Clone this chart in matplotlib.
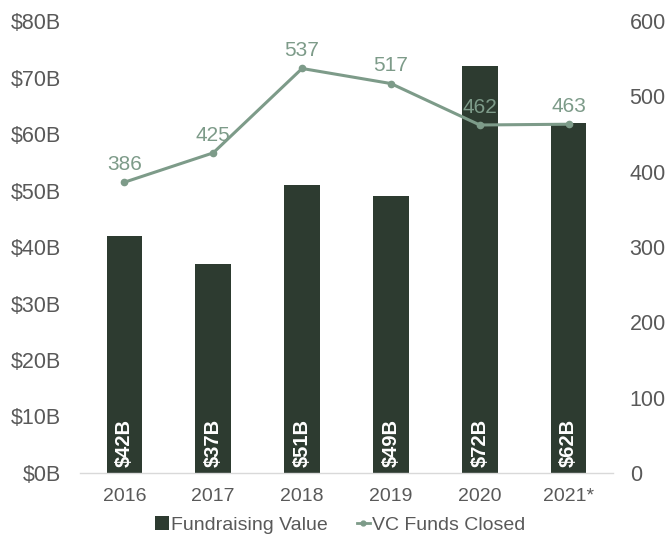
import matplotlib.pyplot as plt
from matplotlib.lines import Line2D
from matplotlib.patches import Patch

plt.rcParams["font.family"] = ["Liberation Sans", "DejaVu Sans"]

years = ["2016", "2017", "2018", "2019", "2020", "2021*"]
fundraising_b = [42, 37, 51, 49, 72, 62]
funds_closed = [386, 425, 537, 517, 462, 463]

BAR_COLOR = "#2d3b30"
LINE_COLOR = "#7d9b89"
TEXT_COLOR = "#595959"

fig = plt.figure(figsize=(6.7, 5.35), dpi=100)
ax = fig.add_axes([0.1194, 0.1159, 0.7955, 0.8448])
ax2 = ax.twinx()

x = list(range(len(years)))
ax.bar(x, fundraising_b, width=0.4, color=BAR_COLOR, zorder=2)
for xi, v in zip(x, fundraising_b):
    ax.annotate(f"${v}B", (xi, 0), xytext=(0, 4), textcoords="offset points",
                rotation=90, ha="center", va="bottom", color="white",
                fontsize=14.5, fontweight="bold", zorder=3)

ax.set_xlim(-0.5, len(years) - 0.5)
ax.set_ylim(0, 80)
ax.set_yticks(range(0, 81, 10))
ax.set_yticklabels([f"${v}B" for v in range(0, 81, 10)])
ax.set_xticks(x)
ax.set_xticklabels(years)

ax2.plot(x, funds_closed, color=LINE_COLOR, lw=2.2, marker="o", ms=4.5, zorder=4)
for xi, v in zip(x, funds_closed):
    ax2.annotate(str(v), (xi, v), xytext=(0, 6), textcoords="offset points",
                 ha="center", va="bottom", color=LINE_COLOR, fontsize=15)
ax2.set_ylim(0, 600)
ax2.set_yticks(range(0, 601, 100))

for a in (ax, ax2):
    for side in ("top", "left", "right", "bottom"):
        a.spines[side].set_visible(False)
ax.spines["bottom"].set_visible(True)
ax.spines["bottom"].set_color("#d9d9d9")
ax.spines["bottom"].set_linewidth(1)

ax.tick_params(axis="y", length=0, pad=14, labelsize=15.5, labelcolor=TEXT_COLOR)
ax.tick_params(axis="x", length=0, pad=11, labelsize=14, labelcolor=TEXT_COLOR)
ax2.tick_params(axis="y", length=0, pad=12, labelsize=15.5, labelcolor=TEXT_COLOR)

handles = [
    Patch(facecolor=BAR_COLOR, label="Fundraising Value"),
    Line2D([], [], color=LINE_COLOR, lw=2, marker="o", ms=3.5, label="VC Funds Closed"),
]
fig.legend(handles=handles, loc="center", bbox_to_anchor=(0.508, 0.019), ncol=2,
           frameon=False, fontsize=14, labelcolor=TEXT_COLOR, handlelength=0.7,
           handleheight=0.7, handletextpad=0.1, columnspacing=1.5)

fig.savefig("out.png", dpi=100)
